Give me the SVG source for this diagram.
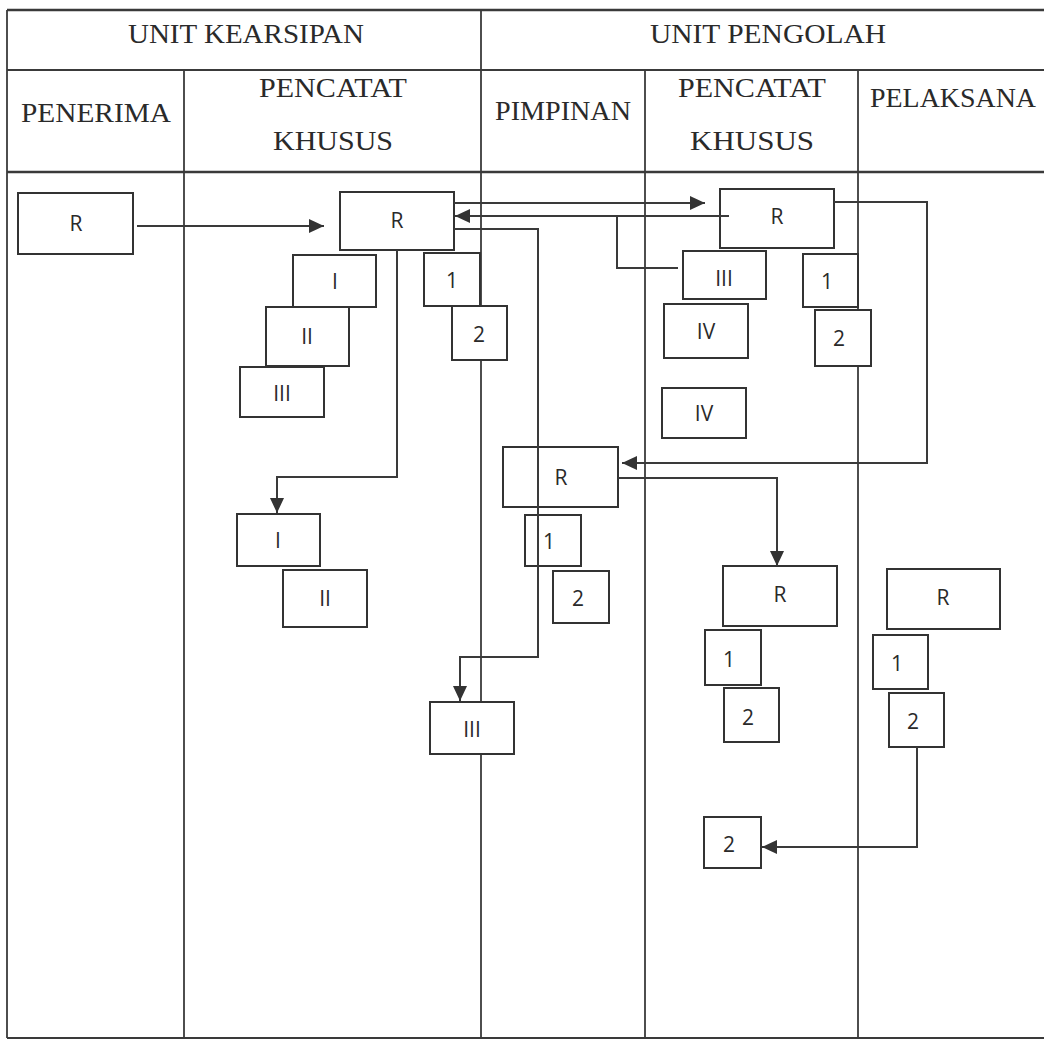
<svg xmlns="http://www.w3.org/2000/svg" width="1044" height="1040" viewBox="0 0 1044 1040">
<style>
.grid{stroke:#3a3a3a;stroke-width:1.8;fill:none}
.hd{font-family:"Liberation Serif","DejaVu Serif",serif;font-size:28px;fill:#2a2a2a;text-anchor:middle}
.box rect{fill:#fff;stroke:#333;stroke-width:2}
.box text{font-family:"Open Sans","Liberation Sans",sans-serif;font-size:21px;fill:#2a2a2a;text-anchor:middle;dominant-baseline:central}
.con{stroke:#3a3a3a;stroke-width:2;fill:none}
</style>
<defs>
<marker id="ah" markerUnits="userSpaceOnUse" markerWidth="16" markerHeight="14" refX="15" refY="7" orient="auto">
<path d="M0,0 L15,7 L0,14 Z" fill="#333"/>
</marker>
</defs>
<rect width="1044" height="1040" fill="#fff"/>
<g id="table">
<line class="grid" x1="7" y1="10" x2="1044" y2="10" style="stroke-width:2.5"/>
<line class="grid" x1="7" y1="70" x2="1044" y2="70" style="stroke-width:2.2"/>
<line class="grid" x1="7" y1="172" x2="1044" y2="172" style="stroke-width:2.5"/>
<line class="grid" x1="7" y1="1038" x2="1044" y2="1038"/>
<line class="grid" x1="7" y1="10" x2="7" y2="1038"/>
<line class="grid" x1="184" y1="70" x2="184" y2="1038"/>
<line class="grid" x1="481" y1="10" x2="481" y2="1038"/>
<line class="grid" x1="645" y1="70" x2="645" y2="1038"/>
<line class="grid" x1="858" y1="70" x2="858" y2="1038"/>
<text class="hd" x="246" y="43" textLength="236" lengthAdjust="spacingAndGlyphs">UNIT KEARSIPAN</text>
<text class="hd" x="768" y="43" textLength="236" lengthAdjust="spacingAndGlyphs">UNIT PENGOLAH</text>
<text class="hd" x="96" y="122" textLength="150" lengthAdjust="spacingAndGlyphs">PENERIMA</text>
<text class="hd" x="333" y="97" textLength="148" lengthAdjust="spacingAndGlyphs">PENCATAT</text>
<text class="hd" x="333" y="150" textLength="120" lengthAdjust="spacingAndGlyphs">KHUSUS</text>
<text class="hd" x="563" y="120" textLength="136" lengthAdjust="spacingAndGlyphs">PIMPINAN</text>
<text class="hd" x="752" y="97" textLength="148" lengthAdjust="spacingAndGlyphs">PENCATAT</text>
<text class="hd" x="752" y="150" textLength="124" lengthAdjust="spacingAndGlyphs">KHUSUS</text>
<text class="hd" x="953" y="107" textLength="166" lengthAdjust="spacingAndGlyphs">PELAKSANA</text>
</g>
<g id="n-penerima-r" class="box"><rect x="18" y="193" width="115" height="61"/><text x="76" y="223">R</text></g>
<g id="n-ke-r" class="box"><rect x="340" y="192" width="114" height="58"/><text x="397" y="220">R</text></g>
<g id="n-ke-i" class="box"><rect x="293" y="255" width="83" height="52"/><text x="335" y="281">I</text></g>
<g id="n-ke-ii" class="box"><rect x="266" y="307" width="83" height="59"/><text x="307" y="336">II</text></g>
<g id="n-ke-iii" class="box"><rect x="240" y="367" width="84" height="50"/><text x="282" y="393">III</text></g>
<g id="n-ke-1" class="box"><rect x="424" y="253" width="56" height="53"/><text x="452" y="280">1</text></g>
<g id="n-ke-2" class="box"><rect x="452" y="306" width="55" height="54"/><text x="479" y="334">2</text></g>
<g id="n-ke-i2" class="box"><rect x="237" y="514" width="83" height="52"/><text x="278" y="540">I</text></g>
<g id="n-ke-ii2" class="box"><rect x="283" y="570" width="84" height="57"/><text x="325" y="598">II</text></g>
<g id="n-pim-r" class="box"><rect x="503" y="447" width="115" height="60"/><text x="561" y="477">R</text></g>
<g id="n-pim-1" class="box"><rect x="525" y="515" width="56" height="51"/><text x="549" y="541">1</text></g>
<g id="n-pim-2" class="box"><rect x="553" y="571" width="56" height="52"/><text x="578" y="598">2</text></g>
<g id="n-pim-iii" class="box"><rect x="430" y="702" width="84" height="52"/><text x="472" y="729">III</text></g>
<g id="n-po-r" class="box"><rect x="720" y="189" width="114" height="59"/><text x="777" y="216">R</text></g>
<g id="n-po-iii" class="box"><rect x="683" y="251" width="83" height="48"/><text x="724" y="278">III</text></g>
<g id="n-po-iv" class="box"><rect x="664" y="304" width="84" height="54"/><text x="706" y="331">IV</text></g>
<g id="n-po-iv2" class="box"><rect x="662" y="388" width="84" height="50"/><text x="704" y="413">IV</text></g>
<g id="n-po-1" class="box"><rect x="803" y="254" width="55" height="53"/><text x="827" y="281">1</text></g>
<g id="n-po-2" class="box"><rect x="815" y="310" width="56" height="56"/><text x="839" y="338">2</text></g>
<g id="n-po-r2" class="box"><rect x="723" y="566" width="114" height="60"/><text x="780" y="594">R</text></g>
<g id="n-po-1b" class="box"><rect x="705" y="630" width="56" height="55"/><text x="729" y="659">1</text></g>
<g id="n-po-2b" class="box"><rect x="724" y="688" width="55" height="54"/><text x="748" y="717">2</text></g>
<g id="n-po-2c" class="box"><rect x="704" y="817" width="57" height="51"/><text x="729" y="844">2</text></g>
<g id="n-pel-r" class="box"><rect x="887" y="569" width="113" height="60"/><text x="943" y="597">R</text></g>
<g id="n-pel-1" class="box"><rect x="873" y="635" width="55" height="54"/><text x="897" y="663">1</text></g>
<g id="n-pel-2" class="box"><rect x="889" y="693" width="55" height="54"/><text x="913" y="721">2</text></g>
<g id="connectors">
<path class="con" d="M137,226 H324" marker-end="url(#ah)"/>
<path class="con" d="M454,203 H705" marker-end="url(#ah)"/>
<path class="con" d="M729,216 H455" marker-end="url(#ah)"/>
<path class="con" d="M617,216 V268 H678"/>
<path class="con" d="M454,229 H538 V657 H460 V701" marker-end="url(#ah)"/>
<path class="con" d="M397,250 V477 H277 V513" marker-end="url(#ah)"/>
<path class="con" d="M834,202 H927 V463 H622" marker-end="url(#ah)"/>
<path class="con" d="M618,478 H777 V566" marker-end="url(#ah)"/>
<path class="con" d="M917,747 V847 H762" marker-end="url(#ah)"/>
</g>
</svg>
